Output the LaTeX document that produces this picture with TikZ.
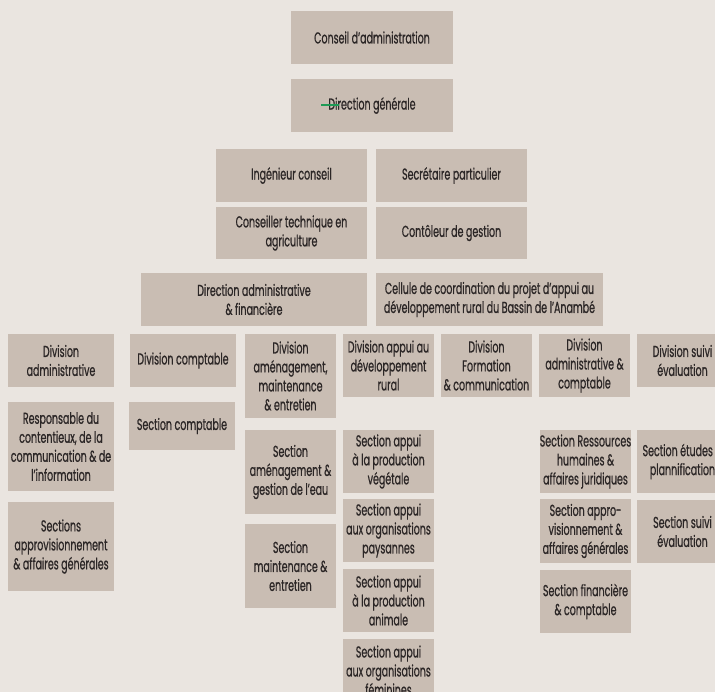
\documentclass[tikz,border=0pt]{standalone}
\usepackage{fontspec}
\setmainfont{Poppins}[FakeStretch=0.6,FakeBold=0.7]
\usepackage{tikz}
\definecolor{paper}{HTML}{EAE5E0}
\definecolor{boxfill}{HTML}{C9BDB3}
\definecolor{ink}{HTML}{2B2626}
\definecolor{mark}{HTML}{1E9A55}

\begin{document}
\begin{tikzpicture}[
  box/.style={draw=none,fill=boxfill,inner sep=0pt,align=center,text=ink,
    font=\fontsize{13.5}{16.2}\selectfont},
  wide/.style={box,minimum width=4.86cm,minimum height=1.59cm},
  mid/.style={box,minimum width=4.53cm},
  large/.style={box,minimum height=1.59cm},
  side/.style={box,minimum width=3.18cm},
  col/.style={box,minimum width=2.73cm},
  strike/.style={draw=mark,line width=1.6pt},
]
\useasboundingbox (0,0) rectangle (21.45,-20.76);
\fill[paper] (0,0) rectangle (21.45,-20.76);
\clip (0,0) rectangle (21.45,-20.76);

% top of the chart
\node[wide] (conseil) at (11.16,-1.125) {Conseil d’administration};
\node[wide] (direction) at (11.16,-3.165) {Direction générale};
\draw[strike] (9.63,-3.15) -- (10.17,-3.15);

\node[mid,minimum height=1.59cm] (ingenieur) at (8.745,-5.265) {Ingénieur conseil};
\node[mid,minimum height=1.59cm] (secretaire) at (13.545,-5.265) {Secrétaire particulier};
\node[mid,minimum height=1.56cm] (conseiller) at (8.745,-6.99) {Conseiller technique en\\agriculture};
\node[mid,minimum height=1.56cm] (controleur) at (13.545,-6.99) {Contôleur de gestion};

\node[large,minimum width=6.78cm] (diradm) at (7.62,-8.985) {Direction administrative\\\& financière};
\node[large,minimum width=6.81cm] (cellule) at (14.685,-8.985) {Cellule de coordination du projet d’appui au\\développement rural du Bassin de l’Anambé};

% divisions
\node[side,minimum height=1.59cm] (divadm) at (1.83,-10.815) {Division\\administrative};
\node[side,minimum height=1.59cm] (divcompt) at (5.49,-10.815) {Division comptable};
\node[col,minimum height=2.52cm] (divamen) at (8.715,-11.28) {Division\\aménagement,\\maintenance\\\& entretien};
\node[col,minimum height=1.89cm] (divappui) at (11.655,-10.965) {Division appui au\\développement\\rural};
\node[col,minimum height=1.89cm] (divform) at (14.595,-10.965) {Division\\Formation\\\& communication};
\node[col,minimum height=1.89cm] (divadmcompt) at (17.535,-10.965) {Division\\administrative \&\\comptable};
\node[col,minimum height=1.59cm] (divsuivi) at (20.475,-10.815) {Division suivi\\évaluation};

% sections
\node[side,minimum height=2.67cm] (respcont) at (1.83,-13.395) {Responsable du\\contentieux, de la\\communication \& de\\l’information};
\node[side,minimum height=2.67cm] (secapprog) at (1.83,-16.395) {Sections\\approvisionnement\\\& affaires générales};
\node[side,minimum height=1.44cm] (seccompt) at (5.46,-12.78) {Section comptable};

\node[col,minimum height=2.52cm] (secamen) at (8.715,-14.16) {Section\\aménagement \&\\gestion de l’eau};
\node[col,minimum height=2.52cm] (secmaint) at (8.715,-16.98) {Section\\maintenance \&\\entretien};

\node[col,minimum height=1.89cm] (secveg) at (11.655,-13.845) {Section appui\\à la production\\végétale};
\node[col,minimum height=1.89cm] (secpays) at (11.655,-15.915) {Section appui\\aux organisations\\paysannes};
\node[col,minimum height=1.89cm] (secanim) at (11.655,-18.015) {Section appui\\à la production\\animale};
\node[col,minimum height=1.89cm] (secfem) at (11.655,-20.115) {Section appui\\aux organisations\\féminines};

\node[col,minimum height=1.89cm] (secrh) at (17.565,-13.845) {Section Ressources\\humaines \&\\affaires juridiques};
\node[col,minimum height=1.92cm] (secapprov) at (17.565,-15.93) {Section appro-\\visionnement \&\\affaires générales};
\node[col,minimum height=1.89cm] (secfin) at (17.565,-18.045) {Section financière\\\& comptable};

\node[col,minimum height=1.89cm] (secetudes) at (20.475,-13.845) {Section études \&\\plannification};
\node[col,minimum height=1.89cm] (secsuivi) at (20.475,-15.945) {Section suivi\\évaluation};
\end{tikzpicture}
\end{document}
